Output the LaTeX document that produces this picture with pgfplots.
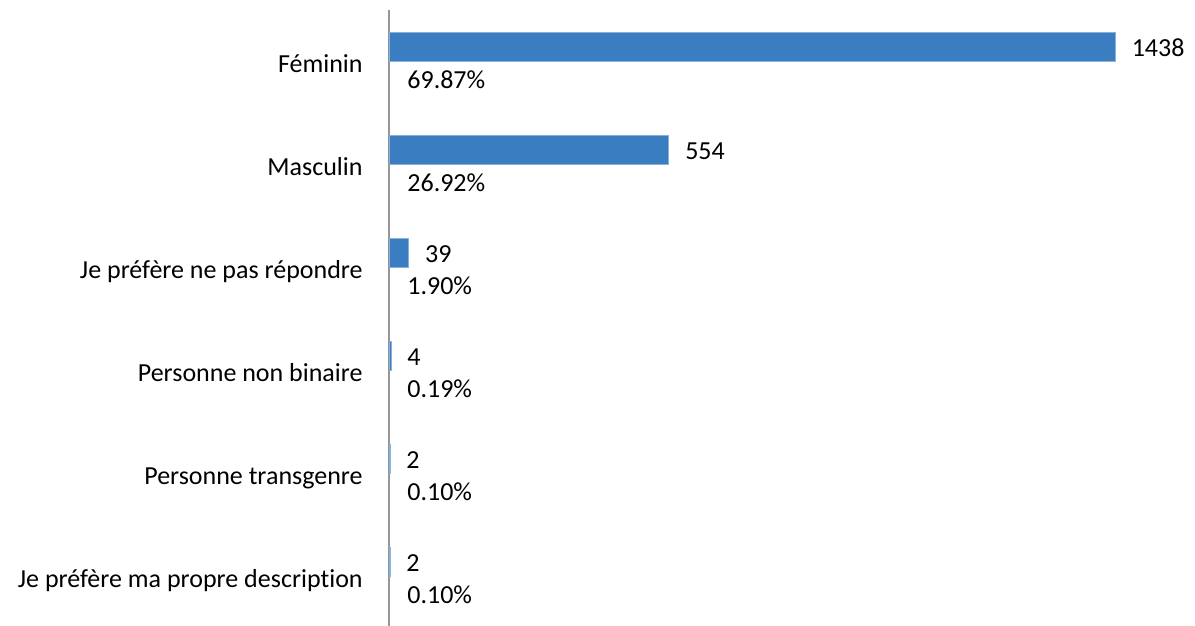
\documentclass[border=0pt]{standalone}
\usepackage{pgfplots}
\pgfplotsset{compat=1.18}
\usepackage{fontspec}
\setmainfont{Carlito}[Ligatures=NoCommon]
\definecolor{barblue}{RGB}{58,126,193}
\definecolor{axisgray}{RGB}{150,150,150}
\begin{document}
\begin{tikzpicture}[font=\fontsize{13}{15.6}\selectfont]
\useasboundingbox (-194.5pt,1pt) rectangle (403pt,314pt);
\begin{axis}[
  at={(0,0)}, anchor=south west,
  scale only axis, width=401.6pt, height=309pt,
  xmin=0, xmax=1590, ymin=-0.5, ymax=5.5,
  axis x line=none, axis y line*=left,
  axis line style={axisgray, line width=1.3pt},
  xtick=\empty,
  ytick={0,1,2,3,4,5},
  yticklabels={Je préfère ma propre description, Personne transgenre, Personne non binaire, Je préfère ne pas répondre, Masculin, Féminin},
  major tick length=0pt,
  yticklabel style={anchor=base east, inner sep=0pt, xshift=-13pt, yshift=-5.7pt},
  clip=false,
]
\addplot[xbar, bar width=14.5pt, bar shift=7.25pt, fill=barblue, draw=barblue!60!white, line width=0.4pt,
  point meta=explicit symbolic, nodes near coords,
  every node near coord/.append style={anchor=base west, inner sep=0pt, xshift=8pt, yshift=2.5pt, text=black}]
  coordinates {(1438,5) [1438] (554,4) [554] (39,3) [39] (4,2) [4] (2,1) [2] (2,0) [2]};
\addplot[draw=none, mark=none, point meta=explicit symbolic, nodes near coords,
  every node near coord/.append style={anchor=base west, inner sep=0pt, xshift=9pt, yshift=-13.7pt, text=black}]
  coordinates {(0,5) [69.87\%] (0,4) [26.92\%] (0,3) [1.90\%] (0,2) [0.19\%] (0,1) [0.10\%] (0,0) [0.10\%]};
\end{axis}
\end{tikzpicture}
\end{document}
